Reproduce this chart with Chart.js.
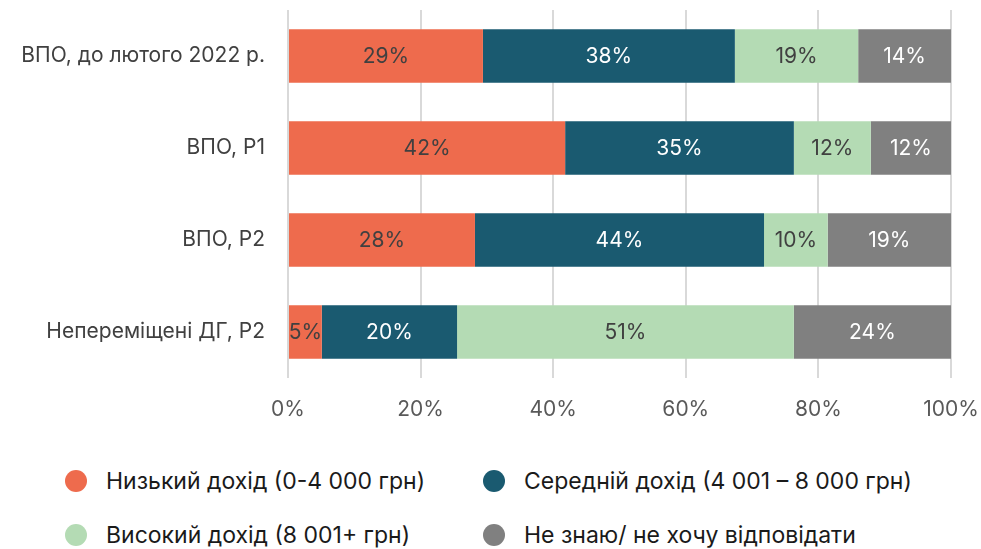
<!DOCTYPE html>
<html>
<head>
<meta charset="utf-8">
<script src="https://cdn.jsdelivr.net/npm/chart.js@4"></script>
<style>
  body { margin: 0; background: #fff; font-family: Inter, Roboto, sans-serif; }
  #wrap { position: relative; width: 981px; height: 549px; }
  #legend { position: absolute; left: 65px; top: 462px; display: grid;
    grid-template-columns: 418px 420px; row-gap: 16px; }
  .item { display: flex; align-items: center; font-size: 23px; color: #1a1a1a; height: 38px; white-space: nowrap; }
  .dot { width: 22px; height: 22px; border-radius: 50%; margin-right: 19px; flex: none; }
</style>
</head>
<body>
<div id="wrap">
  <canvas id="chart" width="981" height="430"></canvas>
  <div id="legend"></div>
</div>
<script>
  const categories = ["ВПО, до лютого 2022 р.", "ВПО, Р1", "ВПО, Р2", "Непереміщені ДГ, Р2"];
  const seriesNames = ["Низький дохід (0-4 000 грн)", "Середній дохід (4 001 – 8 000 грн)",
    "Високий дохід (8 001+ грн)", "Не знаю/ не хочу відповідати"];
  const lowIncome = [29.4, 41.8, 28.2, 5.1];
  const midIncome = [38.0, 34.5, 43.6, 20.4];
  const highIncome = [18.6, 11.6, 9.6, 50.8];
  const dontKnow = [14.0, 12.1, 18.6, 23.7];
  const xTicks = [0, 20, 40, 60, 80, 100];

  const colors = ["#ee6b4d", "#1a5a70", "#b4dbb4", "#808080"];
  const labelColors = ["#404040", "#ffffff", "#404040", "#ffffff"];
  const values = [lowIncome, midIncome, highIncome, dontKnow];
  const fontFamily = "Inter, Roboto, sans-serif";

  // labels inside the bars
  const barLabels = {
    id: "barLabels",
    afterDatasetsDraw(chart) {
      const ctx = chart.ctx;
      ctx.save();
      ctx.font = "21px " + fontFamily;
      ctx.textAlign = "center";
      ctx.textBaseline = "middle";
      chart.data.datasets.forEach((ds, i) => {
        chart.getDatasetMeta(i).data.forEach((bar, j) => {
          ctx.fillStyle = labelColors[i];
          const cx = (bar.x + bar.base) / 2;
          ctx.fillText(Math.round(ds.data[j]) + "%", cx, bar.y + 1);
        });
      });
      ctx.restore();
    }
  };

  new Chart(document.getElementById("chart"), {
    type: "bar",
    data: {
      labels: categories,
      datasets: values.map((v, i) => ({
        label: seriesNames[i],
        data: v,
        backgroundColor: colors[i],
        barPercentage: 0.58,
        categoryPercentage: 1
      }))
    },
    options: {
      indexAxis: "y",
      responsive: false,
      devicePixelRatio: 1,
      animation: false,
      layout: { padding: { top: 10, right: 30, left: 0, bottom: 0 } },
      plugins: { legend: { display: false }, tooltip: { enabled: false } },
      scales: {
        x: {
          stacked: true, min: 0, max: 100,
          afterBuildTicks: s => { s.ticks = xTicks.map(v => ({ value: v })); },
          afterFit: s => { s.height = 52; s.paddingLeft = 0; s.paddingRight = 0; },
          grid: { color: "#d9d9d9", lineWidth: 2, drawTicks: false },
          border: { display: false },
          ticks: { padding: 19, color: "#595959", font: { size: 21, family: fontFamily },
            callback: v => v + "%" }
        },
        y: {
          stacked: true,
          afterFit: s => { s.width = 288; s.paddingTop = 0; s.paddingBottom = 0; },
          grid: { display: false, drawTicks: false },
          border: { display: false },
          ticks: { padding: 23, color: "#404040", font: { size: 21, family: fontFamily } }
        }
      }
    },
    plugins: [barLabels]
  });

  const legend = document.getElementById("legend");
  seriesNames.forEach((name, i) => {
    const el = document.createElement("div");
    el.className = "item";
    el.innerHTML = '<span class="dot" style="background:' + colors[i] + '"></span>' + name;
    legend.appendChild(el);
  });
</script>
</body>
</html>
